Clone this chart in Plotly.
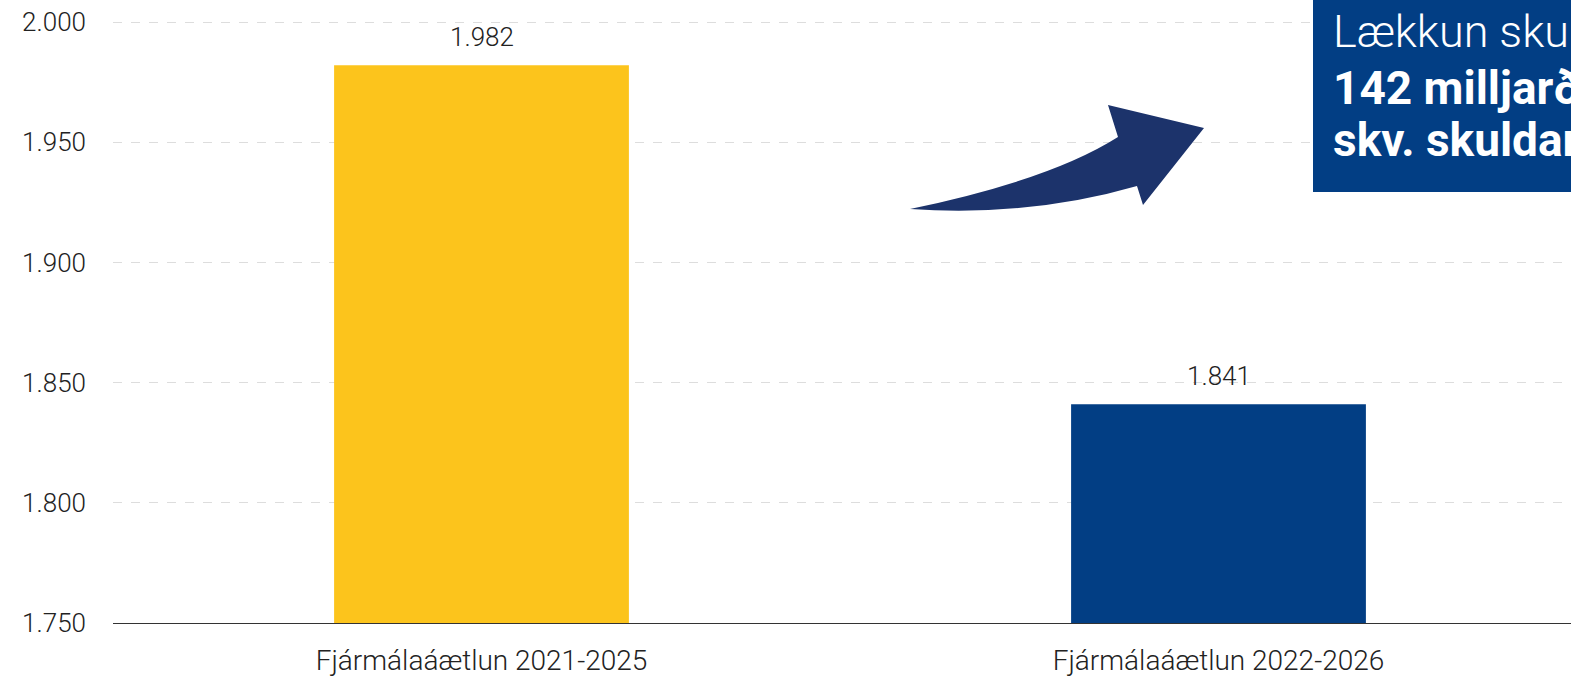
import plotly.graph_objects as go

categories = ["Fjármálaáætlun 2021-2025", "Fjármálaáætlun 2022-2026"]
values = [1982, 1841]
bar_colors = ["#FCC41C", "#023E84"]
tick_vals = [1750, 1800, 1850, 1900, 1950, 2000]
box_lines = ["Lækkun skulda um", "<b>142 milljarða kr.</b>", "<b>skv. skuldareglu</b>"]

W, H = 1571, 676
ML, MR, MT, MB = 113, 0, 0, 53
PW, PH = W - ML - MR, H - MT - MB

def px(x):
    return (x - ML) / PW

def py(y):
    return (H - MB - y) / PH

FONT = "Roboto"

fig = go.Figure()
fig.add_trace(go.Bar(
    x=categories, y=values, marker=dict(color=bar_colors, line=dict(width=0)),
    width=0.4, hoverinfo="skip", showlegend=False,
))

for c, v in zip(categories, values):
    fig.add_annotation(x=c, y=v, xref="x", yref="y", text=f"{v:,}".replace(",", "."),
                       showarrow=False, yanchor="bottom", yshift=11,
                       font=dict(family=FONT, size=26, color="#222", weight=300))

# arrow shape (pixel path converted to paper coordinates)
pts = [("M", 910, 209), ("Q", 1050, 180, 1118, 137), ("L", 1108, 105), ("L", 1204, 128),
       ("L", 1143, 205), ("L", 1137, 186), ("Q", 1030, 217, 910, 209)]
path = ""
for p in pts:
    cmd = p[0]
    coords = p[1:]
    s = []
    for i in range(0, len(coords), 2):
        s.append(f"{px(coords[i]):.5f},{py(coords[i+1]):.5f}")
    path += cmd + " " + " ".join(s) + " "
path += "Z"
fig.add_shape(type="path", path=path, xref="paper", yref="paper",
              fillcolor="#1C336B", line=dict(width=0), layer="above")

# text box
fig.add_shape(type="rect", xref="paper", yref="paper", x0=px(1313), x1=px(1700),
              y0=py(192), y1=py(-5), fillcolor="#023E84", line=dict(width=0), layer="above")
line_y = [32, 88, 140]
sizes = [45, 46, 46]
for t, yy, sz in zip(box_lines, line_y, sizes):
    fig.add_annotation(x=px(1331), y=py(yy), xref="paper", yref="paper", text=t,
                       showarrow=False, xanchor="left", yanchor="middle",
                       font=dict(family=FONT, size=sz, color="white",
                                 weight=300 if not t.startswith("<b>") else 400))

fig.update_layout(
    width=W, height=H, margin=dict(l=ML, r=MR, t=MT, b=MB, autoexpand=False),
    paper_bgcolor="white", plot_bgcolor="white",
    separators=",.",
    font=dict(family=FONT, color="#222", size=26, weight=300),
    xaxis=dict(range=[-0.5, -0.5 + PW / 737], showgrid=False, showline=True, automargin=False,
               linecolor="#333", linewidth=1, ticks="", ticklabelstandoff=12,
               tickfont=dict(size=28, family=FONT, color="#222", weight=300), fixedrange=True),
    yaxis=dict(range=[1750, 1750 + PH / 120.2 * 50], tickvals=tick_vals, tickformat=",d",
               automargin=False,
               showgrid=True, gridcolor="#DDDDDD", griddash="dash", gridwidth=1,
               zeroline=False, showline=False, ticks="", ticklabelstandoff=26,
               tickfont=dict(size=26, family=FONT, color="#222", weight=300), fixedrange=True),
)

fig.write_html("out.html", config={"displayModeBar": False},
               post_script="document.body.style.margin='0';document.body.style.overflow='hidden';")
